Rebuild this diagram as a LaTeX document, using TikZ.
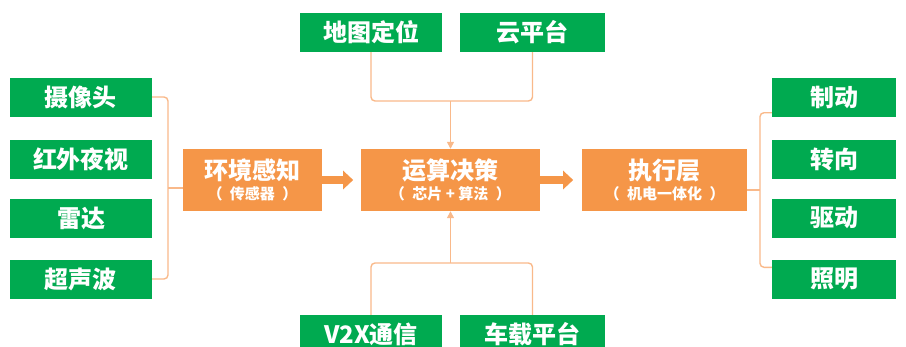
\documentclass[tikz,border=0pt]{standalone}
\usepackage{fontspec}
\setmainfont{Noto Sans CJK SC}
\usepackage{xcolor}
\usepackage{tikz}
\usetikzlibrary{arrows.meta,positioning,calc}

\definecolor{dgreen}{RGB}{0,170,80}
\definecolor{dorange}{RGB}{245,150,72}
\definecolor{lorange}{RGB}{249,185,138}

\begin{document}
\begin{tikzpicture}[x=1pt, y=-1pt, >=Stealth,
    gbox/.style={rectangle, fill=dgreen, text=white, font=\fontsize{24}{26}\selectfont\bfseries,
      minimum height=39pt, inner sep=0pt},
    obox/.style={rectangle, fill=dorange, text=white, align=center, minimum height=62pt, inner sep=0pt},
    link/.style={draw=lorange, line width=1.4pt, rounded corners=4pt},
    feed/.style={draw=lorange, line width=1.4pt, -{Triangle[length=7pt,width=7pt]}},
    flow/.style={draw=dorange, line width=8pt, -{Triangle[length=10pt,width=18pt]}}]
    \useasboundingbox (0,0) rectangle (906,346);
    \clip (0,0) rectangle (906,346);
    % sensors
    \node[gbox, minimum width=142pt] (cam)   at (81,97)  {摄像头};
    \node[gbox, minimum width=142pt] (ir)    at (81,159) {红外夜视};
    \node[gbox, minimum width=142pt] (radar) at (81,218) {雷达};
    \node[gbox, minimum width=142pt] (sonar) at (81,279) {超声波};
    % actuators
    \node[gbox, minimum width=124pt] (brake) at (834,97)  {制动};
    \node[gbox, minimum width=124pt] (steer) at (834,159) {转向};
    \node[gbox, minimum width=124pt] (drive) at (834,218) {驱动};
    \node[gbox, minimum width=124pt] (light) at (834,279) {照明};
    % top / bottom inputs
    \node[gbox, minimum width=142pt] (map)   at (371,32.5)  {地图定位};
    \node[gbox, minimum width=145pt] (cloud) at (532.5,32.5) {云平台};
    \node[gbox, minimum width=142pt] (vtx)   at (371,334.5) {V2X通信};
    \node[gbox, minimum width=145pt] (board) at (532.5,334.5) {车载平台};
    % main chain
    \node[obox, minimum width=139pt] (env) at (252.5,180)
      {{\fontsize{24}{24}\selectfont\bfseries 环境感知}\\[3pt]{\fontsize{15}{16}\selectfont\bfseries （\enspace 传感器\enspace ）}};
    \node[obox, minimum width=179pt] (cpu) at (450.5,180)
      {{\fontsize{24}{24}\selectfont\bfseries 运算决策}\\[3pt]{\fontsize{15}{16}\selectfont\bfseries （\enspace 芯片 + 算法\enspace ）}};
    \node[obox, minimum width=165pt] (act) at (664.5,180)
      {{\fontsize{24}{24}\selectfont\bfseries 执行层}\\[3pt]{\fontsize{15}{16}\selectfont\bfseries （\enspace 机电一体化\enspace ）}};
    \draw[flow] (env.east) -- ++(31,0);
    \draw[flow] (cpu.east) -- ++(33,0);
    % brackets
    \coordinate (lb) at (168,188);
    \draw[link] (cam.east) -| (lb) |- (sonar.east);
    \draw[link] (lb) -- (env.west |- lb);
    \coordinate (rb) at (760,190);
    \draw[link] ($(brake.south west)+(0,-4)$) -| (rb) |- ($(light.north west)+(0,8)$);
    \draw[link] (rb) -- (act.east |- rb);
    \coordinate (tb) at (cpu.north |- 0,101);
    \draw[link] (map.south) |- (tb) -| (cloud.south);
    \draw[feed] (tb) -- (cpu.north);
    \coordinate (bb) at (cpu.south |- 0,263);
    \draw[link] (vtx.north) |- (bb) -| (board.north);
    \draw[feed] (bb) -- (cpu.south);
\end{tikzpicture}
\end{document}
